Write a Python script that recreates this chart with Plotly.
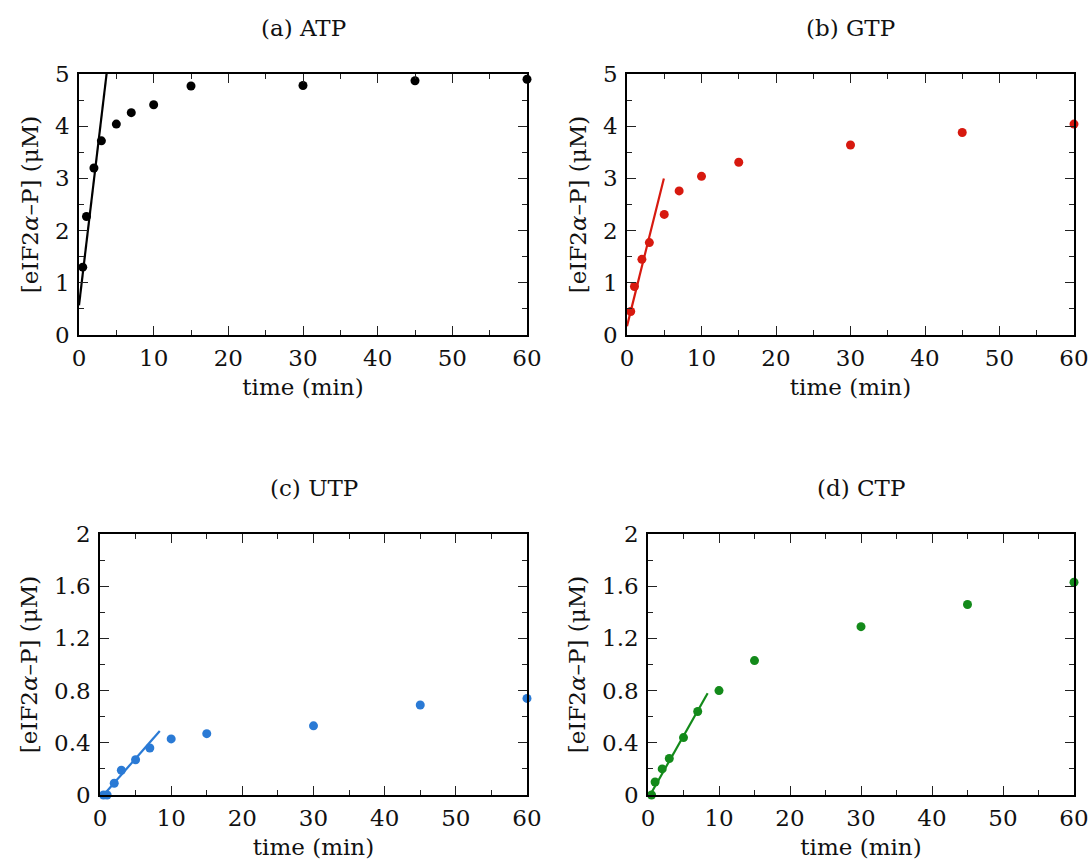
import plotly.graph_objects as go

time_min = [0.5, 1, 2, 3, 5, 7, 10, 15, 30, 45, 60]
atp = [1.30, 2.27, 3.20, 3.72, 4.04, 4.26, 4.41, 4.77, 4.78, 4.87, 4.90]
gtp = [0.45, 0.93, 1.45, 1.77, 2.31, 2.76, 3.04, 3.31, 3.64, 3.88, 4.04]
utp = [0.00, 0.00, 0.09, 0.19, 0.27, 0.36, 0.43, 0.47, 0.53, 0.69, 0.74]
ctp = [0.00, 0.10, 0.20, 0.28, 0.44, 0.64, 0.80, 1.03, 1.29, 1.46, 1.63]

fit_atp_x = [0.0, 4.5]
fit_atp_y = [0.57, 5.97]
fit_gtp_x = [0.0, 4.95]
fit_gtp_y = [0.17, 3.00]
fit_utp_x = [0.5, 8.4]
fit_utp_y = [0.00, 0.49]
fit_ctp_x = [0.3, 8.4]
fit_ctp_y = [0.00, 0.78]

titles = ["(a) ATP", "(b) GTP", "(c) UTP", "(d) CTP"]
colors = ["#000000", "#d7190f", "#2a7ad5", "#138a1a"]
x_ticks = [0, 10, 20, 30, 40, 50, 60]
y_ticks_top = [0, 1, 2, 3, 4, 5]
y_ticks_bot = [0, 0.4, 0.8, 1.2, 1.6, 2]
y_ticktext_bot = ["0", "0.4", "0.8", "1.2", "1.6", "2"]

W, H = 1089, 861
FONT = "DejaVu Serif"
FS = 23

panels = [
    dict(data=atp, fx=fit_atp_x, fy=fit_atp_y, xd=(79, 527), yd=(74, 335), yr=5, yt=y_ticks_top, ytt=[str(v) for v in y_ticks_top], ymin=0.5),
    dict(data=gtp, fx=fit_gtp_x, fy=fit_gtp_y, xd=(627, 1074), yd=(74, 335), yr=5, yt=y_ticks_top, ytt=[str(v) for v in y_ticks_top], ymin=0.5),
    dict(data=utp, fx=fit_utp_x, fy=fit_utp_y, xd=(100, 527), yd=(534, 795), yr=2, yt=y_ticks_bot, ytt=y_ticktext_bot, ymin=0.2),
    dict(data=ctp, fx=fit_ctp_x, fy=fit_ctp_y, xd=(648, 1074), yd=(534, 795), yr=2, yt=y_ticks_bot, ytt=y_ticktext_bot, ymin=0.2),
]

fig = go.Figure()
layout = dict(
    width=W, height=H, margin=dict(l=0, r=0, t=0, b=0, autoexpand=False),
    paper_bgcolor="white", plot_bgcolor="white", showlegend=False,
    font=dict(family=FONT, size=FS, color="#111111"),
)
annotations = []
for i, p in enumerate(panels):
    n = "" if i == 0 else str(i + 1)
    xa = "x" + n
    ya = "y" + n
    fig.add_trace(go.Scatter(x=p["fx"], y=p["fy"], mode="lines",
                             line=dict(color=colors[i], width=2.2),
                             xaxis=xa, yaxis=ya, cliponaxis=True))
    fig.add_trace(go.Scatter(x=time_min, y=p["data"], mode="markers",
                             marker=dict(color=colors[i], size=9),
                             xaxis=xa, yaxis=ya, cliponaxis=False))
    common = dict(showgrid=False, zeroline=False, showline=True, linecolor="black",
                  linewidth=1.5, mirror="allticks", ticks="inside", ticklen=9,
                  tickwidth=1.3, tickcolor="#222222", automargin=False,
                  tickfont=dict(family=FONT, size=FS, color="#111111"))
    layout["xaxis" + n] = dict(
        domain=[p["xd"][0] / W, p["xd"][1] / W], range=[0, 60], anchor=ya,
        tickmode="array", tickvals=x_ticks, ticktext=[str(v) for v in x_ticks],
        minor=dict(ticks="inside", ticklen=5, tickwidth=1.3, tickcolor="#222222", dtick=5, tick0=0),
        title=dict(text="time (min)", font=dict(family=FONT, size=FS), standoff=9),
        ticklabelstandoff=2,
        **common)
    layout["yaxis" + n] = dict(
        domain=[1 - p["yd"][1] / H, 1 - p["yd"][0] / H], range=[0, p["yr"]], anchor=xa,
        tickmode="array", tickvals=p["yt"], ticktext=p["ytt"],
        minor=dict(ticks="inside", ticklen=5, tickwidth=1.3, tickcolor="#222222", dtick=p["ymin"], tick0=0),
        title=dict(text="[eIF2<i>α</i>–P] (μM)", font=dict(family=FONT, size=FS), standoff=10),
        ticklabelstandoff=3,
        **common)
    cx = (p["xd"][0] + p["xd"][1]) / 2 / W
    ty = 1 - (p["yd"][0] - 46) / H
    annotations.append(dict(text=titles[i], x=cx, y=ty, xref="paper", yref="paper",
                            showarrow=False, xanchor="center", yanchor="middle",
                            font=dict(family=FONT, size=FS, color="#111111")))
layout["annotations"] = annotations
fig.update_layout(**layout)
fig.write_html("out.html")
